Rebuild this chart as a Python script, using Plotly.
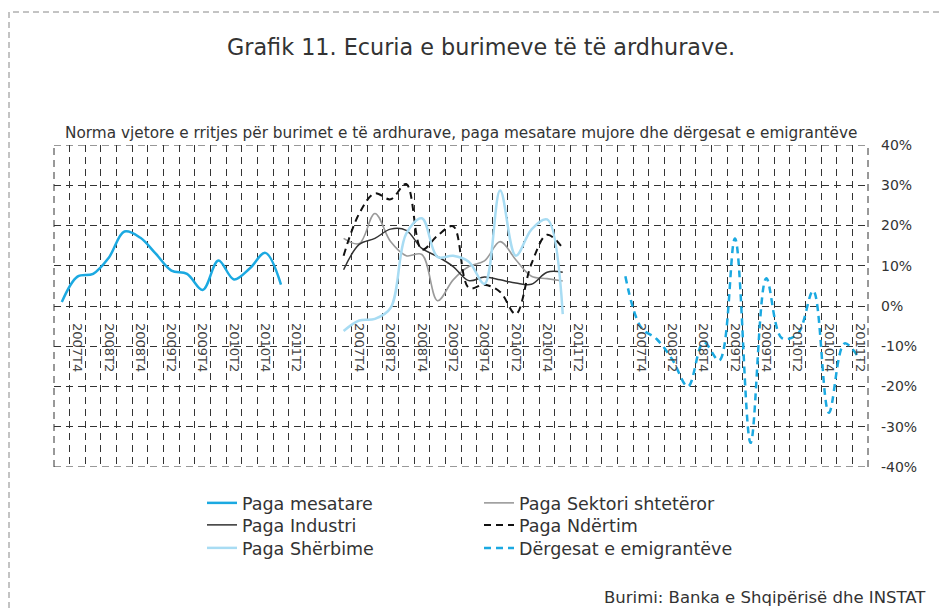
import plotly.graph_objects as go

# ---------------- data ----------------
quarters = ["2007T3", "2007T4", "2008T1", "2008T2", "2008T3", "2008T4",
            "2009T1", "2009T2", "2009T3", "2009T4", "2010T1", "2010T2",
            "2010T3", "2010T4", "2011T1", "2011T2"]

# panel 1
paga_mesatare = [1.0, 7.3, 8.0, 12.0, 18.5, 17.0, 13.0, 8.8, 8.0, 4.0, 11.3, 6.6, 9.3, 13.2, 5.3]
# panel 2
paga_sektori = [16.8, 15.5, 23.0, 16.0, 12.5, 12.8, 1.3, 6.5, 9.8, 11.2, 16.0, 11.5, 7.4, 6.8, 6.2]
paga_industri = [9.0, 15.3, 16.8, 19.1, 18.8, 14.3, 12.3, 9.8, 6.3, 7.2, 6.5, 5.7, 5.4, 8.4, 8.4]
paga_ndertim = [12.5, 23.0, 28.0, 26.5, 30.3, 14.0, 17.5, 19.8, 4.5, 5.3, 3.5, -2.0, 10.5, 17.7, 14.4]
paga_sherbime = [-6.2, -3.6, -3.2, -0.5, 18.0, 21.8, 12.2, 12.5, 11.0, 5.5, 28.7, 12.5, 19.0, 21.5, -2.0]
# panel 3
dergesat = [7.4, -5.3, -8.2, -13.3, -20.0, -9.0, -13.5, 16.8, -34.0, 6.9, -8.0, -7.0, 3.8, -26.5, -9.3, -13.4]

y_ticks = [-40, -30, -20, -10, 0, 10, 20, 30, 40]
y_ticktext = ["-40%", "-30%", "-20%", "-10%", "0%", "10%", "20%", "30%", "40%"]

# ---------------- layout helpers ----------------
n_q = len(quarters)
gap = 2
panel_start = [0, n_q + gap, 2 * (n_q + gap)]
n_total = 3 * n_q + 2 * gap


def xpos(panel, values):
    return [panel_start[panel] + i for i in range(len(values))]


tickvals, ticktext = [], []
for p in range(3):
    for i, q in enumerate(quarters):
        if i % 2 == 1:
            tickvals.append(panel_start[p] + i)
            ticktext.append(q)

BLUE = "#1BA9E1"
LIGHTBLUE = "#A8DCF3"
GREY = "#9A9A9A"
DARK = "#333333"
BLACK = "#111111"

fig = go.Figure()

series = [
    ("Paga mesatare", 0, paga_mesatare, dict(color=BLUE, width=2.5), "legend"),
    ("Paga Sektori shtetëror", 1, paga_sektori, dict(color=GREY, width=1.6), "legend2"),
    ("Paga Industri", 1, paga_industri, dict(color=DARK, width=1.5), "legend3"),
    ("Paga Ndërtim", 1, paga_ndertim, dict(color=BLACK, width=2, dash="7px,5px"), "legend4"),
    ("Paga Shërbime", 1, paga_sherbime, dict(color=LIGHTBLUE, width=2.5), "legend5"),
    ("Dërgesat e emigrantëve", 2, dergesat, dict(color=BLUE, width=2.5, dash="7px,5px"), "legend6"),
]

for name, panel, vals, line, leg in series:
    fig.add_trace(go.Scatter(
        x=xpos(panel, vals), y=vals, name=name, mode="lines",
        line=dict(shape="spline", smoothing=1.0, **line),
        legend=leg, hoverinfo="skip",
    ))

# page offset (browser body margin) and plot area geometry in page px
OFF = 8
W, H = 947, 612
PLOT_L, PLOT_R, PLOT_T, PLOT_B = 54, 868, 145, 467
L = PLOT_L - OFF
T = PLOT_T - OFF
R = W - (PLOT_R - OFF)
B = H - (PLOT_B - OFF)
pw, ph = W - L - R, H - T - B


def px_x(x):
    return (x - OFF - L) / pw


def px_y(y):
    return (H - B - (y - OFF)) / ph


leg_font = dict(family="DejaVu Sans", size=17.5, color="#333")
col_x = [202, 479]
row_y = [503, 525, 548]
legends = {}
names = ["legend", "legend2", "legend3", "legend4", "legend5", "legend6"]
for k, ln in enumerate(names):
    col = k % 2
    row = k // 2
    legends[ln] = dict(x=px_x(col_x[col]), y=px_y(row_y[row]), xanchor="left", yanchor="middle",
                       font=leg_font, bgcolor="rgba(0,0,0,0)", borderwidth=0)

grid_dash = "7px,5px"
fig.update_layout(
    width=W, height=H,
    margin=dict(l=L, r=R, t=T, b=B, pad=0, autoexpand=False),
    paper_bgcolor="white", plot_bgcolor="white",
    font=dict(family="DejaVu Sans", color="#333"),
    showlegend=True,
    title=dict(text="Grafik 11. Ecuria e burimeve të të ardhurave.",
               x=(481 - OFF) / W, xref="container", xanchor="center",
               y=1 - (47 - OFF) / H, yref="container", yanchor="middle",
               font=dict(family="DejaVu Sans", size=22.3, color="#333")),
    xaxis=dict(range=[-0.5, n_total - 0.5], tickmode="array", tickvals=tickvals, ticktext=ticktext,
               tickangle=90, showgrid=False, zeroline=False, showline=False, ticks="",
               anchor="free", position=0.5, ticklabelstandoff=16,
               tickfont=dict(family="DejaVu Sans", size=13, color="#444"),
               minor=dict(tickmode="linear", tick0=-0.5, dtick=1, showgrid=True,
                          gridcolor="#333", griddash=grid_dash, gridwidth=1, ticks="")),
    yaxis=dict(range=[-40, 40], side="right", tickmode="array", tickvals=y_ticks, ticktext=y_ticktext,
               showgrid=True, gridcolor="#333", griddash=grid_dash, gridwidth=1,
               zeroline=False, showline=False, ticks="", ticklabelstandoff=12,
               tickfont=dict(family="DejaVu Sans", size=14, color="#333")),
    **legends,
)

# dashed edges of the plotting area
edge = dict(color="#333", width=1, dash=grid_dash)
for yv in (y_ticks[0], y_ticks[-1]):
    fig.add_shape(type="line", xref="paper", yref="y", x0=0, x1=1, y0=yv, y1=yv, line=edge, layer="below")
for xv in (0, 1):
    fig.add_shape(type="line", xref="paper", yref="paper", x0=xv, x1=xv, y0=0, y1=1, line=edge, layer="below")

fig.add_annotation(text="Norma vjetore e rritjes për burimet e të ardhurave, paga mesatare mujore dhe dërgesat e emigrantëve",
                   xref="paper", yref="paper", x=px_x(461), y=px_y(133), xanchor="center", yanchor="middle",
                   showarrow=False, font=dict(family="DejaVu Sans", size=15.3, color="#333"))
fig.add_annotation(text="Burimi: Banka e Shqipërisë dhe INSTAT",
                   xref="paper", yref="paper", x=px_x(928), y=px_y(597), xanchor="right", yanchor="middle",
                   showarrow=False, font=dict(family="DejaVu Sans", size=16.5, color="#333"))

# dashed frame around the whole graphic
fig.add_shape(type="rect", xref="paper", yref="paper",
              x0=px_x(9), x1=px_x(945), y0=px_y(660), y1=px_y(12),
              line=dict(color="#888", width=1, dash="6px,4px"), layer="below")

fig.write_html("out.html")
